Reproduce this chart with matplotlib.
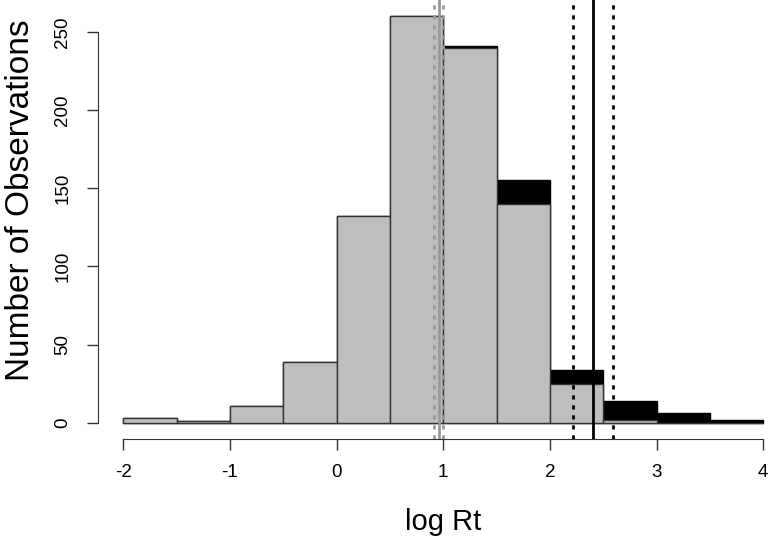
import matplotlib
matplotlib.use("Agg")
import matplotlib.pyplot as plt
import numpy as np

plt.rcParams['font.family'] = ['Liberation Sans', 'DejaVu Sans']
plt.rcParams['axes.unicode_minus'] = False

# histogram bins (log Rt)
bin_left = [-2.0, -1.5, -1.0, -0.5, 0.0, 0.5, 1.0, 1.5, 2.0, 2.5, 3.0, 3.5]
# all observations (black, behind)
total_counts = [3, 1, 11, 39, 132, 260, 241, 155, 34, 14, 6, 2]
# subset (gray, in front)
subset_counts = [3, 1, 11, 39, 132, 260, 240, 140, 25, 2, 0, 0]

# vertical reference lines
gray_mean, gray_lo, gray_hi = 0.958, 0.914, 0.998
black_mean, black_lo, black_hi = 2.40, 2.215, 2.595

fig = plt.figure(figsize=(7.68, 5.37), dpi=100)
# plot region placed like the R device (right edge runs off the picture)
ax = fig.add_axes([0.1273, 0.1825, 0.8997, 0.8175])

ax.bar(bin_left, total_counts, width=0.5, align='edge',
       color='black', edgecolor='black', linewidth=1)
ax.bar(bin_left, subset_counts, width=0.5, align='edge',
       color='#bebebe', edgecolor='#333333', linewidth=1)

dots = (0, (1.5, 2.1))
ax.axvline(gray_mean, color='#999999', lw=2)
ax.axvline(gray_lo, color='#999999', lw=2, ls=dots)
ax.axvline(gray_hi, color='#999999', lw=2, ls=dots)
ax.axvline(black_mean, color='black', lw=2)
ax.axvline(black_lo, color='black', lw=2, ls=dots)
ax.axvline(black_hi, color='black', lw=2, ls=dots)

ax.set_xlim(-2.24, 4.24)
ax.set_ylim(-10.4, 270.4)

for s in ['top', 'right']:
    ax.spines[s].set_visible(False)
ax.spines['left'].set_bounds(0, 250)
ax.spines['bottom'].set_bounds(-2, 4)
ax.spines['left'].set_color('#333333')
ax.spines['bottom'].set_color('#333333')

ax.set_xticks([-2, -1, 0, 1, 2, 3, 4])
ax.set_yticks([0, 50, 100, 150, 200, 250])
ax.tick_params(axis='both', labelsize=13.5, length=8, width=1, color='#333333')
ax.tick_params(axis='x', pad=10)
ax.tick_params(axis='y', pad=11)
for lab in ax.get_yticklabels():
    lab.set_rotation(90)
    lab.set_va('center')

ax.set_xlabel('log Rt', fontsize=21, va='center')
ax.xaxis.set_label_coords(0.5, -0.188)
ax.set_ylabel('Number of Observations', fontsize=24, va='center')
ax.yaxis.set_label_coords(-0.112, 0.544)

fig.savefig('out.png', dpi=100)
